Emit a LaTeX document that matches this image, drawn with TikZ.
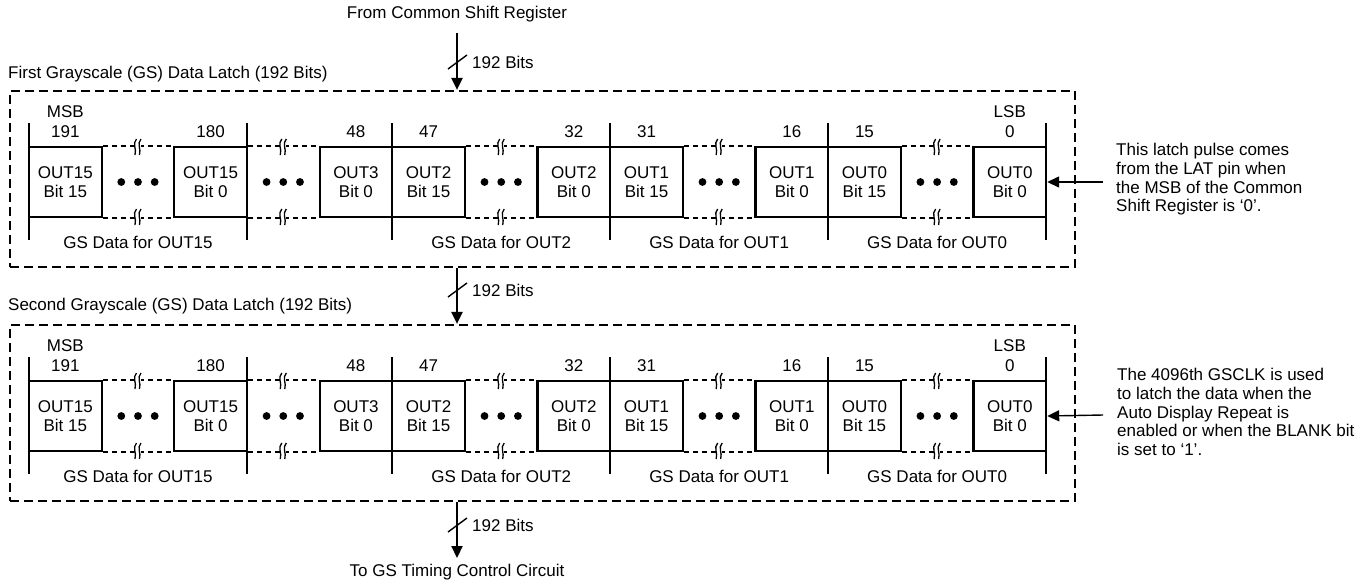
\documentclass[tikz,border=0pt]{standalone}
\usepackage{fontspec}
\setmainfont{Liberation Sans}
\usetikzlibrary{arrows.meta}
\begin{document}
\begin{tikzpicture}[x=1pt,y=-1pt,
  txt/.style={font=\fontsize{17}{19}\selectfont, inner sep=0pt},
  note/.style={font=\fontsize{17}{18.7}\selectfont, inner sep=0pt, align=left, anchor=west},
  cell/.style={draw, line width=2.2pt, minimum width=72.65pt, minimum height=70pt, inner sep=0pt, align=center, font=\fontsize{17}{19}\selectfont},
  sepline/.style={line width=2.2pt},
  gapline/.style={line width=2.2pt, dash pattern=on 5pt off 4pt},
  latchbox/.style={draw, line width=2.2pt, dash pattern=on 9pt off 5pt, minimum width=1065pt, minimum height=176pt, inner sep=0pt},
  bus/.style={line width=2.2pt, -{Triangle[length=12pt,width=11pt]}},
  brk/.pic={
    \fill[white] (-2.6,-6) rectangle (2.6,6);
    \draw[line width=1.3pt] (-1.5,-8) .. controls (-6,-3) and (-1,2) .. (-3,8);
    \draw[line width=1.3pt] (3,-8) .. controls (-1.5,-3) and (3.5,2) .. (1.5,8);
  }
]
\useasboundingbox (0,0) rectangle (1366,582);

% texts outside
\node[txt] (src) at (457,14) {From Common Shift Register};
\node[txt, anchor=west] (t1) at (8,74) {First Grayscale (GS) Data Latch (192 Bits)};
\node[txt, anchor=west] (t2) at (8,306) {Second Grayscale (GS) Data Latch (192 Bits)};
\node[txt] (dst) at (457,572) {To GS Timing Control Circuit};

% latch boxes
\node[latchbox] (L1) at (542.5,179) {};
\node[latchbox] (L2) at (542.5,413) {};

% buses
\coordinate (b1) at (457,33);
\draw[bus] (b1) -- (b1 |- L1.north);
\draw[line width=1.4pt] (448,69) -- (467,55);
\node[txt, anchor=west] (n1) at (472,62) {192 Bits};

\coordinate (b2) at (b1 |- L1.south);
\draw[bus] (b2) -- (b2 |- L2.north);
\draw[line width=1.4pt] (448,297) -- (467,283);
\node[txt, anchor=west] (n2) at (472,290) {192 Bits};

\coordinate (b3) at (b1 |- L2.south);
\coordinate (b4) at (457,558);
\draw[bus] (b3) -- (b4);
\draw[line width=1.4pt] (448,532) -- (467,518);
\node[txt, anchor=west] (n3) at (472,525) {192 Bits};

\foreach \r/\dy in {1/0, 2/234} {
  \begin{scope}[yshift=-\dy pt]
    % cells
    \foreach \s/\a/\b/\num in {0/OUT15/Bit 15/191, 2/OUT15/Bit 0/180, 4/OUT3/Bit 0/48, 5/OUT2/Bit 15/47, 7/OUT2/Bit 0/32, 8/OUT1/Bit 15/31, 10/OUT1/Bit 0/16, 11/OUT0/Bit 15/15, 13/OUT0/Bit 0/0} {
      \node[cell] (r\r c\s) at ({29+72.65*(\s+0.5)},182) {\a\\\b};
      \node[txt] (r\r n\s) at ({29+72.65*(\s+0.5)},132) {\num};
    }
    \node[txt] (r\r msb) at ({29+72.65*0.5},112) {MSB};
    \node[txt] (r\r lsb) at ({29+72.65*13.5},112) {LSB};
    % long separators
    \foreach \k in {0,3,5,8,11,14} {
      \draw[sepline] ({29+72.65*\k},123) -- ({29+72.65*\k},240);
    }
    % gaps
    \foreach \p/\q/\g in {0/2/1, 2/4/3, 5/7/6, 8/10/9, 11/13/12} {
      \draw[gapline] (r\r c\p.north east) -- (r\r c\q.north west);
      \draw[gapline] (r\r c\p.south east) -- (r\r c\q.south west);
      \pic at ({29+72.65*(\g+0.5)},147) {brk};
      \pic at ({29+72.65*(\g+0.5)},217) {brk};
      \foreach \d in {-16.7,0,16.7}
        \fill ({29+72.65*(\g+0.5)+\d},182) circle (3.9);
    }
    % bottom labels
    \node[txt] (r\r g15) at ({29+72.65*1.5},242) {GS Data for OUT15};
    \node[txt] (r\r g2) at ({29+72.65*6.5},242) {GS Data for OUT2};
    \node[txt] (r\r g1) at ({29+72.65*9.5},242) {GS Data for OUT1};
    \node[txt] (r\r g0) at ({29+72.65*12.5},242) {GS Data for OUT0};
  \end{scope}
}

% right notes
\node[note] (m1) at (1116,179.5) {This latch pulse comes\\from the LAT pin when\\the MSB of the Common\\Shift Register is ‘0’.};
\coordinate (p1) at (1103,182);
\draw[bus, line width=1.4pt] (p1) -- (r1c13.east);

\node[note] (m2) at (1117,412) {The 4096th GSCLK is used\\to latch the data when the\\Auto Display Repeat is\\enabled or when the BLANK bit\\is set to ‘1’.};
\coordinate (p2) at (1103,415);
\draw[bus, line width=1.4pt] (p2) -- (r2c13.east);
\end{tikzpicture}
\end{document}
